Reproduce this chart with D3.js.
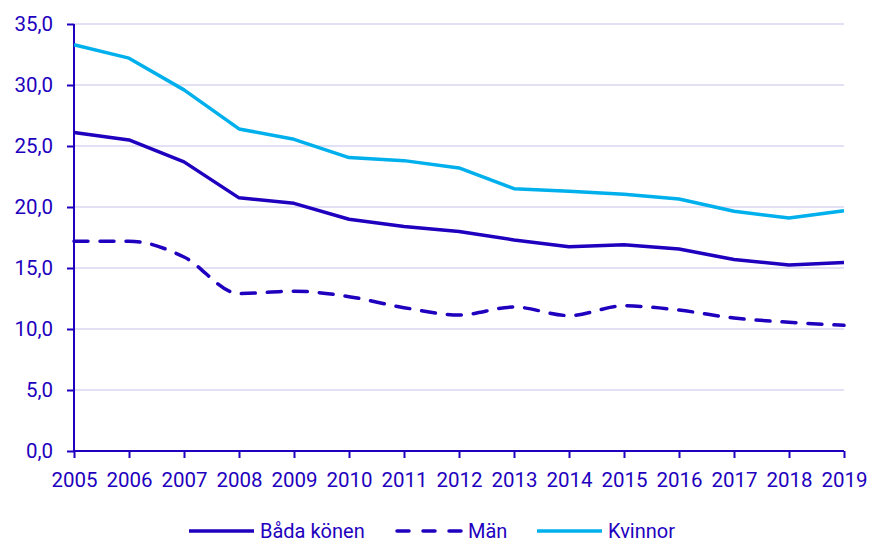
<!DOCTYPE html>
<html lang="sv">
    <head>
        <meta charset="utf-8">
        <title>Andel per år</title>
        <script src="https://d3js.org/d3.v7.min.js"></script>
        <style type="text/css">
            body{
                margin:0;
                background:#ffffff;
            }
            svg{
                display:block;
                font-family: Roboto, "Noto Sans", sans-serif;
            }
        </style>
    </head>
    <body>
        <svg width="870" height="542"></svg>
        <script type="text/javascript">

            // data
            const years = [2005, 2006, 2007, 2008, 2009, 2010, 2011, 2012, 2013, 2014, 2015, 2016, 2017, 2018, 2019];
            const bada = [26.1, 25.5, 23.7, 20.75, 20.3, 19.0, 18.4, 18.0, 17.3, 16.75, 16.9, 16.55, 15.7, 15.25, 15.45];
            const man = [17.2, 17.2, 15.9, 12.9, 13.1, 12.65, 11.75, 11.15, 11.8, 11.1, 11.9, 11.55, 10.9, 10.55, 10.3];
            const kvinnor = [33.3, 32.2, 29.6, 26.4, 25.55, 24.05, 23.8, 23.2, 21.5, 21.3, 21.05, 20.65, 19.65, 19.1, 19.7];
            const yTicks = [0, 5, 10, 15, 20, 25, 30, 35];
            const seriesNames = ["Båda könen", "Män", "Kvinnor"];

            const dark = "#1e00be";
            const light = "#00b0ec";
            const grid = "#d8d6f2";

            const series = [
                {name: seriesNames[0], values: bada, color: dark, dash: null, curve: d3.curveLinear},
                {name: seriesNames[1], values: man, color: dark, dash: "14,12", curve: d3.curveMonotoneX},
                {name: seriesNames[2], values: kvinnor, color: light, dash: null, curve: d3.curveLinear}
            ];

            const svg = d3.select("svg");

            const x = d3.scaleLinear()
                        .domain([2005, 2019])
                        .range([74, 844]);

            const y = d3.scaleLinear()
                        .domain([0, 35])
                        .range([451, 24]);

            // gridlines
            svg.append("g")
                .selectAll("line")
                .data(yTicks.filter(d => d > 0))
                .join("line")
                .attr("x1", x(2005))
                .attr("x2", x(2019))
                .attr("y1", d => y(d))
                .attr("y2", d => y(d))
                .style("stroke", grid)
                .style("stroke-width", 1.5);

            const fmt = d => d3.format(".1f")(d).replace(".", ",");

            const yAxis = svg.append("g")
                            .attr("transform", "translate(74,0)")
                            .call(d3.axisLeft(y).tickValues(yTicks).tickFormat(fmt).tickSize(7).tickPadding(14));

            const xAxis = svg.append("g")
                            .attr("transform", "translate(0,451)")
                            .call(d3.axisBottom(x).tickValues(years).tickFormat(d3.format("d")).tickSize(7).tickPadding(14));

            [yAxis, xAxis].forEach(a => {
                a.select(".domain").style("stroke", dark).style("stroke-width", 2);
                a.selectAll(".tick line").style("stroke", dark).style("stroke-width", 2);
                a.selectAll(".tick text")
                    .style("fill", dark)
                    .style("font-size", "20.5px")
                    .style("font-family", "Roboto, sans-serif");
            });
            yAxis.select(".domain").attr("d", "M0," + y(35) + "V" + y(0));
            xAxis.select(".domain").attr("d", "M" + x(2005) + ",0H" + x(2019));

            // lines
            series.forEach(s => {
                const line = d3.line()
                                .x((d, i) => x(years[i]))
                                .y(d => y(d))
                                .curve(s.curve);
                svg.append("path")
                    .datum(s.values)
                    .attr("d", line)
                    .style("fill", "none")
                    .style("stroke", s.color)
                    .style("stroke-width", 3.5)
                    .style("stroke-linecap", s.dash ? "round" : "butt")
                    .style("stroke-linejoin", "round")
                    .style("stroke-dasharray", s.dash);
            });

            // legend
            const legendX = [189, 397, 537];
            const legend = svg.append("g")
                            .selectAll("g")
                            .data(series)
                            .join("g")
                            .attr("transform", (d, i) => "translate(" + legendX[i] + ",531)");

            legend.append("line")
                .attr("x1", 0)
                .attr("x2", 65)
                .style("stroke", d => d.color)
                .style("stroke-width", 3.5)
                .style("stroke-linecap", d => d.dash ? "round" : "butt")
                .style("stroke-dasharray", d => d.dash ? "12,14" : null);

            legend.append("text")
                .attr("x", 71)
                .attr("dy", "0.35em")
                .text(d => d.name)
                .style("fill", dark)
                .style("font-size", "20px");

        </script>
    </body>
</html>
